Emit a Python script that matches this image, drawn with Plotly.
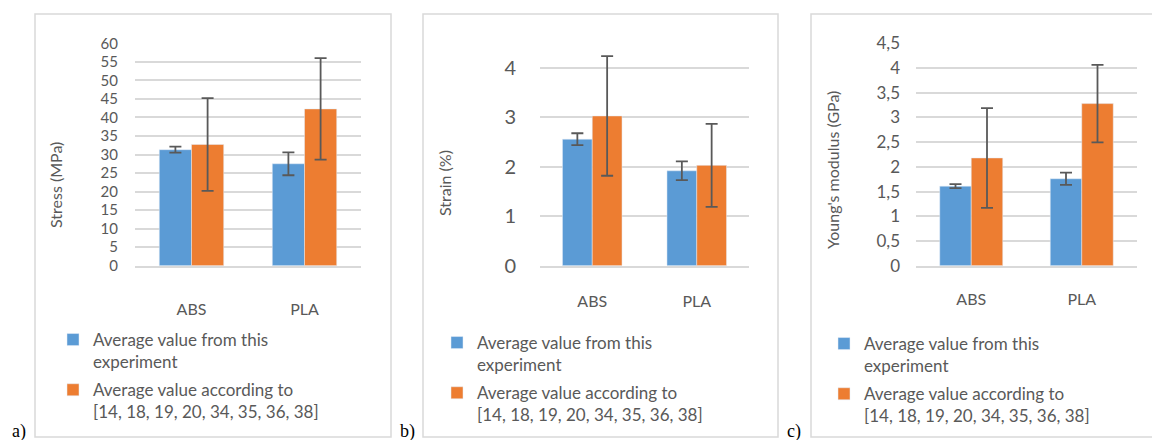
import plotly.graph_objects as go

categories = ["ABS", "PLA"]
series_names = ["Average value from this<br>experiment",
                "Average value according to<br>[14, 18, 19, 20, 34, 35, 36, 38]"]

stress_this = [31.3, 27.5]
stress_this_err = [0.8, 3.1]
stress_lit = [32.7, 42.3]
stress_lit_err = [12.5, 13.7]

strain_this = [2.56, 1.92]
strain_this_err = [0.12, 0.19]
strain_lit = [3.03, 2.03]
strain_lit_err = [1.21, 0.84]

modulus_this = [1.61, 1.76]
modulus_this_err = [0.04, 0.125]
modulus_lit = [2.18, 3.28]
modulus_lit_err = [1.01, 0.785]

stress_ticks = list(range(0, 61, 5))
strain_ticks = [0, 1, 2, 3, 4]
modulus_ticks = [0, 0.5, 1, 1.5, 2, 2.5, 3, 3.5, 4, 4.5]
modulus_ticktext = ["0", "0,5", "1", "1,5", "2", "2,5", "3", "3,5", "4", "4,5"]

OFF = 8  # page body margin
W, H = 1160 - OFF, 440 - OFF
BLUE = "#5B9BD5"
ORANGE = "#ED7D31"
GRID = "#D9D9D9"
TXT = "#595959"
ERR = "#595959"
FONT = "Lato"

def px(x):
    return (x - OFF) / W

def py(y):
    return 1 - (y - OFF) / H

fig = go.Figure()

panels = [
    dict(this=stress_this, this_err=stress_this_err, lit=stress_lit, lit_err=stress_lit_err,
         xdom=(135, 361), rng=[0, 60], ticks=stress_ticks, ticktext=[str(t) for t in stress_ticks],
         tickfs=15, ystand=16, xstand=28, legend="legend", title="Stress (MPa)", tx=55, ty=185,
         lx=53, ly=322, frame=(35, 391), lab="a)", labx=19),
    dict(this=strain_this, this_err=strain_this_err, lit=strain_lit, lit_err=strain_lit_err,
         xdom=(540, 749), rng=[0, 4.5], ticks=strain_ticks, ticktext=[str(t) for t in strain_ticks],
         tickfs=20, ystand=23, xstand=20, legend="legend2", title="Strain (%)", tx=444, ty=183,
         lx=437, ly=325, frame=(423, 778), lab="b)", labx=407),
    dict(this=modulus_this, this_err=modulus_this_err, lit=modulus_lit, lit_err=modulus_lit_err,
         xdom=(916, 1137), rng=[0, 4.5], ticks=modulus_ticks, ticktext=modulus_ticktext,
         tickfs=17, ystand=15, xstand=18, legend="legend3", title="Young's modulus (GPa)", tx=832, ty=170,
         lx=824, ly=326, frame=(811, 1159), lab="c)", labx=794),
]

shapes = []
annotations = []
for i, p in enumerate(panels):
    n = "" if i == 0 else str(i + 1)
    xa, ya = "x" + n, "y" + n
    fig.add_trace(go.Bar(x=categories, y=p["this"], name=series_names[0], marker_color=BLUE,
                         error_y=dict(type="data", array=p["this_err"], color=ERR, thickness=1.8, width=6),
                         xaxis=xa, yaxis=ya, legend=p["legend"], legendgroup="this" + n))
    fig.add_trace(go.Bar(x=categories, y=p["lit"], name=series_names[1], marker_color=ORANGE,
                         error_y=dict(type="data", array=p["lit_err"], color=ERR, thickness=1.8, width=6),
                         xaxis=xa, yaxis=ya, legend=p["legend"], legendgroup="lit" + n))
    fig.update_layout(**{
        "xaxis" + n: dict(domain=[px(p["xdom"][0]), px(p["xdom"][1])], anchor=ya,
                          showgrid=False, showline=True, linecolor=GRID, linewidth=1.5,
                          ticks="", tickfont=dict(family=FONT, size=16, color=TXT),
                          ticklabelstandoff=p["xstand"], fixedrange=True),
        "yaxis" + n: dict(domain=[py(265.7), py(43.3)], anchor=xa, range=p["rng"],
                          tickvals=p["ticks"], ticktext=p["ticktext"],
                          showgrid=True, gridcolor=GRID, gridwidth=1.5, zeroline=False,
                          showline=False, ticks="", ticklabelstandoff=p["ystand"],
                          tickfont=dict(family=FONT, size=p["tickfs"], color=TXT), fixedrange=True),
        p["legend"]: dict(x=px(p["lx"]), y=py(p["ly"]), xanchor="left", yanchor="top",
                          font=dict(family=FONT, size=17, color=TXT), valign="top",
                          bgcolor="rgba(0,0,0,0)", tracegroupgap=3),
    })
    shapes.append(dict(type="rect", xref="paper", yref="paper",
                       x0=px(p["frame"][0]), x1=px(p["frame"][1]), y0=py(437), y1=py(14),
                       line=dict(color=GRID, width=1.5), fillcolor="rgba(0,0,0,0)", layer="below"))
    annotations.append(dict(text=p["title"], xref="paper", yref="paper", x=px(p["tx"]), y=py(p["ty"]),
                            showarrow=False, textangle=-90, xanchor="center", yanchor="middle",
                            font=dict(family=FONT, size=16, color=TXT)))
    annotations.append(dict(text=p["lab"], xref="paper", yref="paper", x=px(p["labx"]), y=py(431),
                            showarrow=False, xanchor="center", yanchor="middle",
                            font=dict(family="Liberation Serif", size=18, color="#000000")))

fig.update_layout(width=W, height=H, margin=dict(l=0, r=0, t=0, b=0, autoexpand=False),
                  paper_bgcolor="white", plot_bgcolor="white",
                  barmode="group", bargap=0.43, bargroupgap=0,
                  shapes=shapes, annotations=annotations, showlegend=True)

fig.write_html("out.html")
